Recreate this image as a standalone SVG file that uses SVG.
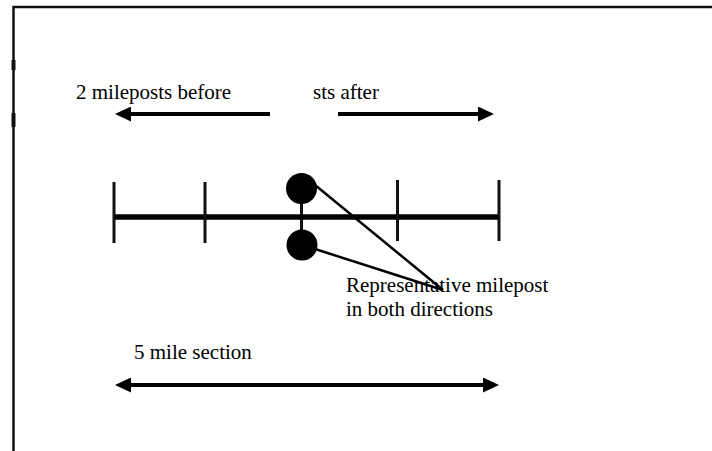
<svg xmlns="http://www.w3.org/2000/svg" width="712" height="451" viewBox="0 0 712 451">
  <style>
    .lbl { font-family: "Liberation Serif", "Times New Roman", serif; font-size: 21px; fill: #000; }
    .frame { stroke: #111; stroke-width: 2.5; fill: none; }
    .arrow { stroke: #000; stroke-width: 4; fill: none; }
    .tick { stroke: #111; stroke-width: 3; }
    .axis { stroke: #000; stroke-width: 5.5; }
    .leader { stroke: #000; stroke-width: 2.5; }
    .dot { fill: #000; }
  </style>
  <defs>
    <marker id="head" markerUnits="userSpaceOnUse" markerWidth="16" markerHeight="15" viewBox="0 0 16 15" refX="0" refY="7.5" orient="auto-start-reverse">
      <path d="M0,0 L16,7.5 L0,15 Z" fill="#000"/>
    </marker>
  </defs>

  <g id="frame">
    <path class="frame" d="M13.5,451 L13.5,7 L712,7"/>
    <rect x="11.5" y="60" width="4" height="10" fill="#111"/>
    <rect x="11.5" y="113" width="4" height="14" fill="#111"/>
  </g>

  <g id="labels">
    <text class="lbl" x="76" y="99">2 mileposts before</text>
    <text class="lbl" x="313" y="99">sts after</text>
    <text class="lbl" x="134" y="359">5 mile section</text>
  </g>

  <g id="connectors">
    <line class="arrow" x1="270" y1="114" x2="131" y2="114" marker-end="url(#head)"/>
    <line class="arrow" x1="338" y1="114" x2="478" y2="114" marker-end="url(#head)"/>
    <line class="arrow" x1="131" y1="385" x2="483" y2="385" marker-start="url(#head)" marker-end="url(#head)"/>
    <line class="leader" x1="315" y1="185" x2="443" y2="290"/>
    <line class="leader" x1="315" y1="249" x2="443" y2="290"/>
    <line class="tick" x1="301.5" y1="189" x2="301.5" y2="245"/>
  </g>

  <g id="milepost-line">
    <line class="axis" x1="114" y1="217" x2="499" y2="217"/>
    <line class="tick" x1="114" y1="182" x2="114" y2="243"/>
    <line class="tick" x1="205" y1="182" x2="205" y2="243"/>
    <line class="tick" x1="397.5" y1="180" x2="397.5" y2="241"/>
    <line class="tick" x1="499" y1="180" x2="499" y2="241"/>
  </g>

  <g id="milepost-top">
    <circle class="dot" cx="301.5" cy="188.5" r="15.5"/>
  </g>
  <g id="milepost-bottom">
    <circle class="dot" cx="302" cy="245" r="15.5"/>
  </g>

  <g id="note">
    <text class="lbl" x="346" y="292">Representative milepost</text>
    <text class="lbl" x="346" y="316">in both directions</text>
  </g>
</svg>
